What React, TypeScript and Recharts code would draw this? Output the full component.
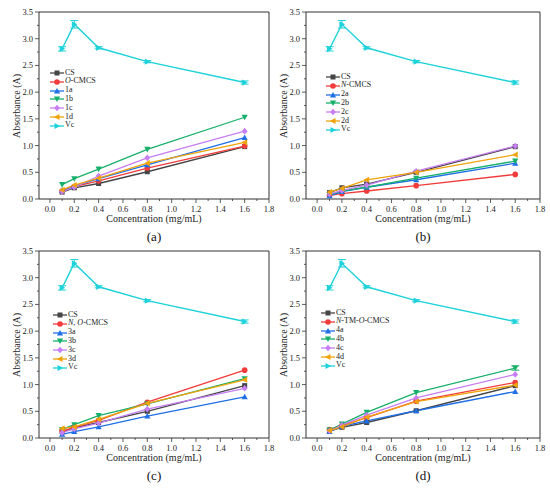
import React from "react";
import {
  LineChart,
  Line,
  XAxis,
  YAxis,
  ReferenceArea,
  ErrorBar,
} from "recharts";

// concentrations (mg/mL)
const conc = [0.1, 0.2, 0.4, 0.8, 1.6];

// Vc reference, same in every panel
const vc = [2.81, 3.27, 2.83, 2.57, 2.18];
const vcErr = [0.04, 0.07, 0.02, 0.02, 0.03];

// panel (a)
const csA = [0.13, 0.21, 0.29, 0.51, 0.98];
const oCmcs = [0.15, 0.23, 0.34, 0.58, 0.99];
const s1a = [0.16, 0.24, 0.38, 0.64, 1.15];
const s1b = [0.27, 0.38, 0.56, 0.93, 1.53];
const s1c = [0.14, 0.22, 0.43, 0.77, 1.27];
const s1d = [0.17, 0.26, 0.39, 0.67, 1.06];

// panel (b)
const csB = [0.12, 0.21, 0.28, 0.5, 0.98];
const nCmcs = [0.07, 0.1, 0.15, 0.25, 0.46];
const s2a = [0.06, 0.14, 0.22, 0.36, 0.67];
const s2b = [0.08, 0.15, 0.22, 0.39, 0.71];
const s2c = [0.09, 0.16, 0.26, 0.52, 0.99];
const s2d = [0.13, 0.2, 0.36, 0.5, 0.83];

// panel (c)
const csC = [0.12, 0.19, 0.29, 0.5, 0.98];
const noCmcs = [0.13, 0.2, 0.33, 0.67, 1.27];
const s3a = [0.07, 0.12, 0.21, 0.41, 0.77];
const s3b = [0.16, 0.25, 0.42, 0.64, 1.11];
const s3c = [0.1, 0.17, 0.28, 0.54, 0.93];
const s3d = [0.18, 0.21, 0.35, 0.65, 1.09];

// panel (d)
const csD = [0.13, 0.2, 0.29, 0.51, 0.98];
const ntmCmcs = [0.16, 0.23, 0.38, 0.69, 1.04];
const s4a = [0.12, 0.22, 0.32, 0.51, 0.87];
const s4b = [0.15, 0.26, 0.48, 0.85, 1.31];
const s4c = [0.13, 0.24, 0.43, 0.75, 1.19];
const s4d = [0.14, 0.21, 0.39, 0.68, 0.99];

const labelsA = ["CS", "O-CMCS", "1a", "1b", "1c", "1d", "Vc"];
const labelsB = ["CS", "N-CMCS", "2a", "2b", "2c", "2d", "Vc"];
const labelsC = ["CS", "N, O-CMCS", "3a", "3b", "3c", "3d", "Vc"];
const labelsD = ["CS", "N-TM-O-CMCS", "4a", "4b", "4c", "4d", "Vc"];

const xTicks = [0, 0.1, 0.2, 0.3, 0.4, 0.5, 0.6, 0.7, 0.8, 0.9, 1.0, 1.1, 1.2, 1.3, 1.4, 1.5, 1.6, 1.7, 1.8];
const yTicks = [0, 0.25, 0.5, 0.75, 1.0, 1.25, 1.5, 1.75, 2.0, 2.25, 2.5, 2.75, 3.0, 3.25, 3.5];

const COLORS = ["#454545", "#f23b3b", "#1f6fe6", "#17b06a", "#c67ef2", "#f0a30a", "#1dd2da"];
const SHAPES = ["square", "circle", "up", "down", "diamond", "left", "right"];
const AXIS = "#333";
const FONT = "Liberation Serif, Times New Roman, serif";

const X_DOMAIN: [number, number] = [-0.09, 1.8];
const Y_DOMAIN: [number, number] = [0, 3.5];

function Marker({ cx, cy, shape, color }: any) {
  const s = 2.5;
  if (cx == null || cy == null) return null;
  switch (shape) {
    case "square":
      return <rect x={cx - s} y={cy - s} width={2 * s} height={2 * s} fill={color} />;
    case "circle":
      return <circle cx={cx} cy={cy} r={s + 0.3} fill={color} />;
    case "up":
      return <polygon points={`${cx},${cy - s - 0.6} ${cx + s + 0.6},${cy + s} ${cx - s - 0.6},${cy + s}`} fill={color} />;
    case "down":
      return <polygon points={`${cx},${cy + s + 0.6} ${cx + s + 0.6},${cy - s} ${cx - s - 0.6},${cy - s}`} fill={color} />;
    case "diamond":
      return <polygon points={`${cx},${cy - s - 0.8} ${cx + s + 0.4},${cy} ${cx},${cy + s + 0.8} ${cx - s - 0.4},${cy}`} fill={color} />;
    case "left":
      return <polygon points={`${cx - s - 0.6},${cy} ${cx + s},${cy - s - 0.6} ${cx + s},${cy + s + 0.6}`} fill={color} />;
    default:
      return <polygon points={`${cx + s + 0.6},${cy} ${cx - s},${cy - s - 0.6} ${cx - s},${cy + s + 0.6}`} fill={color} />;
  }
}

function XTick({ x, y, payload }: any) {
  const v = payload.value;
  const major = Math.abs(v * 5 - Math.round(v * 5)) < 1e-6;
  return (
    <g>
      <line x1={x} x2={x} y1={y} y2={y + (major ? 4 : 2)} stroke={AXIS} strokeWidth={0.8} />
      {major && (
        <text x={x} y={y + 13} textAnchor="middle" fontSize={8.5} fontFamily={FONT} fill="#222">
          {v.toFixed(1)}
        </text>
      )}
    </g>
  );
}

function YTick({ x, y, payload }: any) {
  const v = payload.value;
  const major = Math.abs(v * 2 - Math.round(v * 2)) < 1e-6;
  return (
    <g>
      <line x1={x} x2={x - (major ? 4 : 2)} y1={y} y2={y} stroke={AXIS} strokeWidth={0.8} />
      {major && (
        <text x={x - 6} y={y + 3} textAnchor="end" fontSize={8.5} fontFamily={FONT} fill="#222">
          {v.toFixed(1)}
        </text>
      )}
    </g>
  );
}

// italic N / O prefixes in the legend names
function LegendName({ text }: { text: string }) {
  const parts = text.split(/\b([NO])(?=[-,])/);
  return (
    <span style={{ whiteSpace: "pre" }}>
      {parts.map((p, i) => (i % 2 === 1 ? <i key={i}>{p}</i> : p))}
    </span>
  );
}

interface PanelProps {
  plot: { L: number; R: number; T: number; B: number };
  series: number[][];
  labels: string[];
  tag: string;
  legendDx: number;
  legendDy: number;
  errs?: Record<number, number[]>;
}

function Panel({ plot, series, labels, tag, legendDx, legendDy, errs }: PanelProps) {
  const left = plot.L - 39;
  const top = plot.T - 12;
  const width = plot.R - plot.L + 39 + 6;
  const height = plot.B - plot.T + 12 + 46;

  const rows = conc.map((x, i) => {
    const row: any = { x, vc: vc[i], vcErr: vcErr[i] };
    series.forEach((s, k) => {
      row["s" + k] = s[i];
      if (errs && errs[k]) row["e" + k] = errs[k][i];
    });
    return row;
  });

  const midX = (plot.L + plot.R) / 2 - left;
  const midY = (plot.T + plot.B) / 2 - top;

  return (
    <div style={{ position: "absolute", left, top, width, height }}>
      <LineChart width={width} height={height} data={rows} margin={{ top: 12, right: 6, left: 0, bottom: 0 }}>
        <ReferenceArea
          x1={X_DOMAIN[0]}
          x2={X_DOMAIN[1]}
          y1={Y_DOMAIN[0]}
          y2={Y_DOMAIN[1]}
          fill="none"
          stroke={AXIS}
          strokeWidth={1}
          ifOverflow="visible"
        />
        <XAxis
          dataKey="x"
          type="number"
          domain={X_DOMAIN}
          ticks={xTicks}
          interval={0}
          height={46}
          axisLine={false}
          tickLine={false}
          tickSize={0}
          tickMargin={0}
          tick={<XTick />}
          allowDataOverflow
        />
        <YAxis
          type="number"
          domain={Y_DOMAIN}
          ticks={yTicks}
          interval={0}
          width={39}
          axisLine={false}
          tickLine={false}
          tickSize={0}
          tickMargin={0}
          tick={<YTick />}
          allowDataOverflow
        />
        {series.map((_, k) => (
          <Line
            key={k}
            dataKey={"s" + k}
            stroke={COLORS[k]}
            strokeWidth={1.3}
            isAnimationActive={false}
            dot={(p: any) => <Marker key={p.index} cx={p.cx} cy={p.cy} shape={SHAPES[k]} color={COLORS[k]} />}
            activeDot={false}
          >
            {errs && errs[k] && (
              <ErrorBar dataKey={"e" + k} direction="y" width={4} stroke={COLORS[k]} strokeWidth={1} />
            )}
          </Line>
        ))}
        <Line
          dataKey="vc"
          stroke={COLORS[6]}
          strokeWidth={1.4}
          isAnimationActive={false}
          dot={(p: any) => <Marker key={p.index} cx={p.cx} cy={p.cy} shape={SHAPES[6]} color={COLORS[6]} />}
          activeDot={false}
        >
          <ErrorBar dataKey="vcErr" direction="y" width={4} stroke={COLORS[6]} strokeWidth={1} />
        </Line>
      </LineChart>

      {/* legend */}
      <div
        style={{
          position: "absolute",
          left: 39 + legendDx,
          top: 12 + legendDy - 4.4,
          fontFamily: FONT,
          fontSize: 8,
          color: "#222",
          lineHeight: "8.8px",
        }}
      >
        {labels.map((lab, k) => (
          <div key={k} style={{ display: "flex", alignItems: "center", height: 8.8, whiteSpace: "nowrap" }}>
            <svg width={14} height={8} style={{ marginRight: 1 }}>
              <line x1={0} x2={14} y1={4} y2={4} stroke={COLORS[k]} strokeWidth={1.3} />
              <Marker cx={7} cy={4} shape={SHAPES[k]} color={COLORS[k]} />
            </svg>
            <LegendName text={lab} />
          </div>
        ))}
      </div>

      {/* y label */}
      <div
        style={{
          position: "absolute",
          left: 16,
          top: midY,
          transform: "translate(-50%, -50%) rotate(-90deg)",
          fontFamily: FONT,
          fontSize: 10,
          color: "#222",
          whiteSpace: "nowrap",
        }}
      >
        Absorbance (A)
      </div>

      {/* x label */}
      <div
        style={{
          position: "absolute",
          left: midX,
          top: plot.B - top + 19,
          transform: "translate(-50%, -50%)",
          fontFamily: FONT,
          fontSize: 10,
          color: "#222",
          whiteSpace: "nowrap",
        }}
      >
        Concentration (mg/mL)
      </div>

      <div
        style={{
          position: "absolute",
          left: midX,
          top: plot.B - top + 38,
          transform: "translate(-50%, -50%)",
          fontFamily: FONT,
          fontSize: 13,
          color: "#111",
          whiteSpace: "nowrap",
        }}
      >
        {tag}
      </div>
    </div>
  );
}

export default function App() {
  return (
    <div style={{ position: "absolute", left: 0, top: 0, width: 550, height: 489, background: "#fff", overflow: "hidden" }}>
      <Panel
        plot={{ L: 39, R: 269, T: 12, B: 199 }}
        series={[csA, oCmcs, s1a, s1b, s1c, s1d]}
        labels={labelsA}
        tag="(a)"
        legendDx={11}
        legendDy={61}
      />
      <Panel
        plot={{ L: 306, R: 540, T: 12, B: 199 }}
        series={[csB, nCmcs, s2a, s2b, s2c, s2d]}
        labels={labelsB}
        tag="(b)"
        legendDx={20}
        legendDy={65}
      />
      <Panel
        plot={{ L: 39, R: 269, T: 251, B: 438 }}
        series={[csC, noCmcs, s3a, s3b, s3c, s3d]}
        labels={labelsC}
        tag="(c)"
        legendDx={14}
        legendDy={64}
      />
      <Panel
        plot={{ L: 306, R: 540, T: 251, B: 438 }}
        series={[csD, ntmCmcs, s4a, s4b, s4c, s4d]}
        labels={labelsD}
        tag="(d)"
        legendDx={15}
        legendDy={62}
        errs={{ 3: [0, 0, 0, 0, 0.04] }}
      />
    </div>
  );
}
